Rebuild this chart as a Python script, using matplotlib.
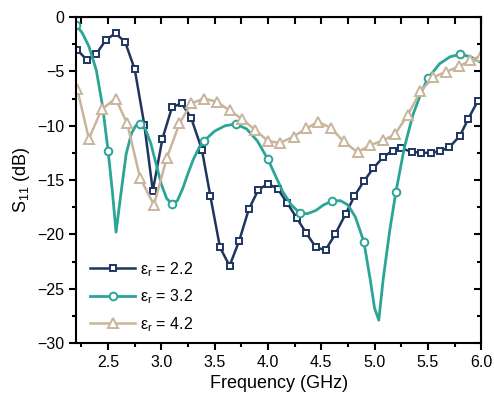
import numpy as np
import matplotlib
matplotlib.use("Agg")
import matplotlib.pyplot as plt
from matplotlib.ticker import MultipleLocator

plt.rcParams['font.family'] = ['Liberation Sans', 'DejaVu Sans']
plt.rcParams['mathtext.default'] = 'regular'

# eps_r = 2.2 (squares)
f_22 = [2.21, 2.30, 2.39, 2.48, 2.57, 2.66, 2.75, 2.84, 2.92, 3.01, 3.10, 3.19, 3.28,
        3.38, 3.46, 3.55, 3.64, 3.73, 3.82, 3.91, 4.00, 4.09, 4.18, 4.27, 4.36, 4.45,
        4.54, 4.63, 4.73, 4.81, 4.90, 4.99, 5.08, 5.17, 5.25, 5.35, 5.44, 5.53, 5.61,
        5.70, 5.80, 5.88, 5.97]
s_22 = [-3.0, -3.95, -3.4, -2.1, -1.5, -2.3, -4.8, -9.9, -16.0, -11.2, -8.3, -7.95, -9.3,
        -12.2, -16.5, -21.2, -22.9, -20.6, -17.7, -15.9, -15.35, -15.8, -17.1, -18.5, -19.9, -21.2,
        -21.45, -20.0, -18.1, -16.5, -15.1, -13.9, -12.9, -12.3, -12.1, -12.4, -12.5, -12.5, -12.35,
        -12.0, -10.95, -9.35, -7.7]

# eps_r = 3.2 (smooth curve, circles)
f_32 = [2.20, 2.26, 2.32, 2.39, 2.45, 2.50, 2.54, 2.575, 2.62, 2.67, 2.72, 2.76, 2.80,
        2.85, 2.90, 2.95, 3.00, 3.05, 3.10, 3.15, 3.20, 3.25, 3.30, 3.35, 3.40, 3.50,
        3.60, 3.70, 3.80, 3.90, 4.00, 4.07, 4.14, 4.22, 4.30, 4.37, 4.45, 4.52, 4.60,
        4.68, 4.75, 4.82, 4.90, 4.96, 5.00, 5.04, 5.08, 5.14, 5.20, 5.28, 5.36, 5.44,
        5.50, 5.61, 5.71, 5.80, 5.90, 6.00]
s_32 = [-0.7, -1.5, -2.7, -4.9, -8.3, -12.3, -16.0, -19.8, -16.3, -12.6, -10.7, -10.0, -9.85,
        -10.3, -11.6, -13.5, -15.4, -16.7, -17.2, -16.9, -15.8, -14.4, -13.1, -12.1, -11.4, -10.5,
        -10.0, -9.85, -10.3, -11.4, -13.1, -14.6, -16.1, -17.3, -18.05, -18.1, -17.8, -17.3, -16.95,
        -16.9, -17.3, -18.4, -20.7, -24.2, -26.8, -27.9, -24.2, -19.8, -16.1, -12.0, -9.0, -6.9,
        -5.65, -4.3, -3.65, -3.45, -3.65, -4.2]
mark_32 = [2.2, 2.5, 2.8, 3.1, 3.4, 3.7, 4.0, 4.3, 4.6, 4.9, 5.2, 5.5, 5.8]

# eps_r = 4.2 (triangles)
f_42 = [2.21, 2.32, 2.44, 2.57, 2.68, 2.80, 2.93, 3.05, 3.17, 3.28, 3.40, 3.52, 3.64,
        3.76, 3.88, 4.00, 4.11, 4.24, 4.36, 4.47, 4.59, 4.71, 4.84, 4.96, 5.08, 5.19,
        5.31, 5.43, 5.55, 5.67, 5.79, 5.90, 6.00]
s_42 = [-6.6, -11.2, -8.5, -7.5, -9.8, -14.8, -17.3, -13.0, -9.8, -7.95, -7.5, -7.8, -8.6,
        -9.4, -10.4, -11.4, -11.6, -11.0, -10.25, -9.65, -10.2, -11.45, -12.45, -11.8, -11.35, -10.8,
        -9.05, -6.85, -5.55, -5.05, -4.55, -4.0, -3.55]

navy = '#1f3560'
teal = '#2aa596'
tan = '#c8b59c'

fig = plt.figure(figsize=(4.94, 4.0), dpi=100)
ax = fig.add_axes([0.154, 0.1425, 0.82, 0.815])

ax.plot(f_22, s_22, color=navy, lw=1.8, marker='s', ms=5, mfc='white', mec=navy,
        mew=1.4, label='ε$_{r}$ = 2.2')
idx = [i for i, f in enumerate(f_32) if round(f, 3) in mark_32]
ax.plot(f_32, s_32, color=teal, lw=2.0, marker='o', ms=5.5, mfc='white', mec=teal,
        mew=1.4, markevery=idx, solid_joinstyle='round', label='ε$_{r}$ = 3.2')
ax.plot(f_42, s_42, color=tan, lw=1.8, marker='^', ms=6.5, mfc='white', mec=tan,
        mew=1.4, label='ε$_{r}$ = 4.2')

ax.set_xlim(2.2, 6.0)
ax.set_ylim(-30, 0)
ax.xaxis.set_minor_locator(MultipleLocator(0.25))
ax.yaxis.set_major_locator(MultipleLocator(5))
ax.yaxis.set_minor_locator(MultipleLocator(2.5))
ax.set_xticks([2.5, 3.0, 3.5, 4.0, 4.5, 5.0, 5.5, 6.0])
ax.xaxis.set_major_formatter(plt.FormatStrFormatter('%.1f'))

for sp in ax.spines.values():
    sp.set_linewidth(1.5)
ax.tick_params(which='major', direction='out', length=5, width=1.5, labelsize=11.5)
ax.tick_params(which='minor', direction='out', length=3, width=1.5)

# inward ticks on top and right
top = ax.secondary_xaxis('top')
top.xaxis.set_major_locator(MultipleLocator(0.5))
top.xaxis.set_minor_locator(MultipleLocator(0.25))
top.tick_params(which='both', direction='in', length=5, width=1.5, labeltop=False)
right = ax.secondary_yaxis('right')
right.yaxis.set_major_locator(MultipleLocator(5))
right.yaxis.set_minor_locator(MultipleLocator(2.5))
right.tick_params(which='major', direction='in', length=5, width=1.5, labelright=False)
right.tick_params(which='minor', direction='in', length=3, width=1.5, labelright=False)

ax.set_xlabel('Frequency (GHz)', fontsize=13)
ax.set_ylabel('S$_{11}$ (dB)', fontsize=13, labelpad=4)

ax.legend(loc='lower left', frameon=False, fontsize=11.5, handlelength=2.8,
          handletextpad=0.3, labelspacing=0.55, bbox_to_anchor=(0.0, -0.015))

fig.savefig('out.png', dpi=100)
